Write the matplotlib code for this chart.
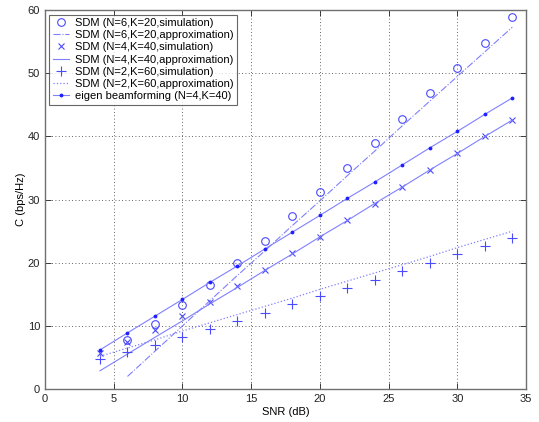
import numpy as np
import matplotlib.pyplot as plt

plt.rcParams['font.family'] = ['Liberation Sans', 'DejaVu Sans']

snr = [4, 6, 8, 10, 12, 14, 16, 18, 20, 22, 24, 26, 28, 30, 32, 34]

# N=6, K=20
snr6 = snr[1:]
sim6 = [7.8, 10.3, 13.3, 16.5, 19.9, 23.5, 27.4, 31.2, 35.0, 38.9, 42.8, 46.8, 50.8, 54.8, 58.9]
app6 = [2.0, 6.0, 10.0, 14.0, 18.0, 21.9, 25.9, 29.8, 33.8, 37.7, 41.7, 45.6, 49.5, 53.4, 57.3]

# N=4, K=40
sim4 = [5.75, 7.4, 9.3, 11.5, 13.8, 16.3, 18.9, 21.5, 24.1, 26.8, 29.3, 32.0, 34.65, 37.3, 40.0, 42.6]
app4 = [2.9, 5.55, 8.2, 10.8, 13.5, 16.1, 18.8, 21.4, 24.1, 26.7, 29.4, 32.0, 34.7, 37.3, 40.0, 42.6]

# N=2, K=60
sim2 = [4.7, 5.8, 7.0, 8.2, 9.45, 10.75, 12.1, 13.4, 14.7, 16.0, 17.35, 18.7, 20.0, 21.35, 22.7, 24.0]
app2 = [5.2, 6.5, 7.8, 9.2, 10.5, 11.8, 13.1, 14.4, 15.8, 17.1, 18.4, 19.7, 21.0, 22.4, 23.7, 25.0]

# eigen beamforming N=4, K=40
eig4 = [6.2, 8.9, 11.55, 14.2, 16.9, 19.5, 22.2, 24.85, 27.5, 30.2, 32.8, 35.5, 38.2, 40.8, 43.5, 46.1]

mk = '#4a4aff'
ln = '#8080ff'

fig = plt.figure(figsize=(5.39, 4.22), dpi=100)
ax = fig.add_axes([0.0835, 0.078, 0.8925, 0.898])

ax.plot(snr6, sim6, 'o', mfc='none', mec=mk, ms=5.5, mew=0.8,
        label='SDM (N=6,K=20,simulation)')
ax.plot(snr6, app6, '-.', color=ln, lw=0.8,
        label='SDM (N=6,K=20,approximation)')
ax.plot(snr, sim4, 'x', color=mk, ms=4.5, mew=0.8,
        label='SDM (N=4,K=40,simulation)')
ax.plot(snr, app4, '-', color=ln, lw=0.8,
        label='SDM (N=4,K=40,approximation)')
ax.plot(snr, sim2, '+', color=mk, ms=7, mew=0.8,
        label='SDM (N=2,K=60,simulation)')
ax.plot(snr, app2, ':', color=ln, lw=0.9,
        label='SDM (N=2,K=60,approximation)')
ax.plot(snr, eig4, '.-', color=ln, mfc='#2020ff', mec='#2020ff', ms=3.5, lw=0.8,
        label='eigen beamforming (N=4,K=40)')

ax.set_xlim(0, 35)
ax.set_ylim(0, 60)
ax.set_xticks(range(0, 36, 5))
ax.set_yticks(range(0, 61, 10))
ax.grid(True, linestyle=(0, (1, 3)), color='#333333', lw=0.6)
ax.tick_params(direction='in', labelsize=8, length=4, width=0.6,
               top=True, right=True, colors='#222222')
for s in ax.spines.values():
    s.set_color('#707070')
    s.set_linewidth(1.0)
ax.set_xlabel('SNR (dB)', fontsize=8, labelpad=2)
ax.set_ylabel('C (bps/Hz)', fontsize=8, labelpad=1)

leg = ax.legend(loc='upper left', fontsize=8, frameon=True, fancybox=False,
                borderaxespad=0.4, handlelength=1.5, labelspacing=0.2,
                borderpad=0.3, handletextpad=0.5)
leg.get_frame().set_edgecolor('#404040')
leg.get_frame().set_linewidth(0.8)

fig.savefig('out.png', dpi=100)
